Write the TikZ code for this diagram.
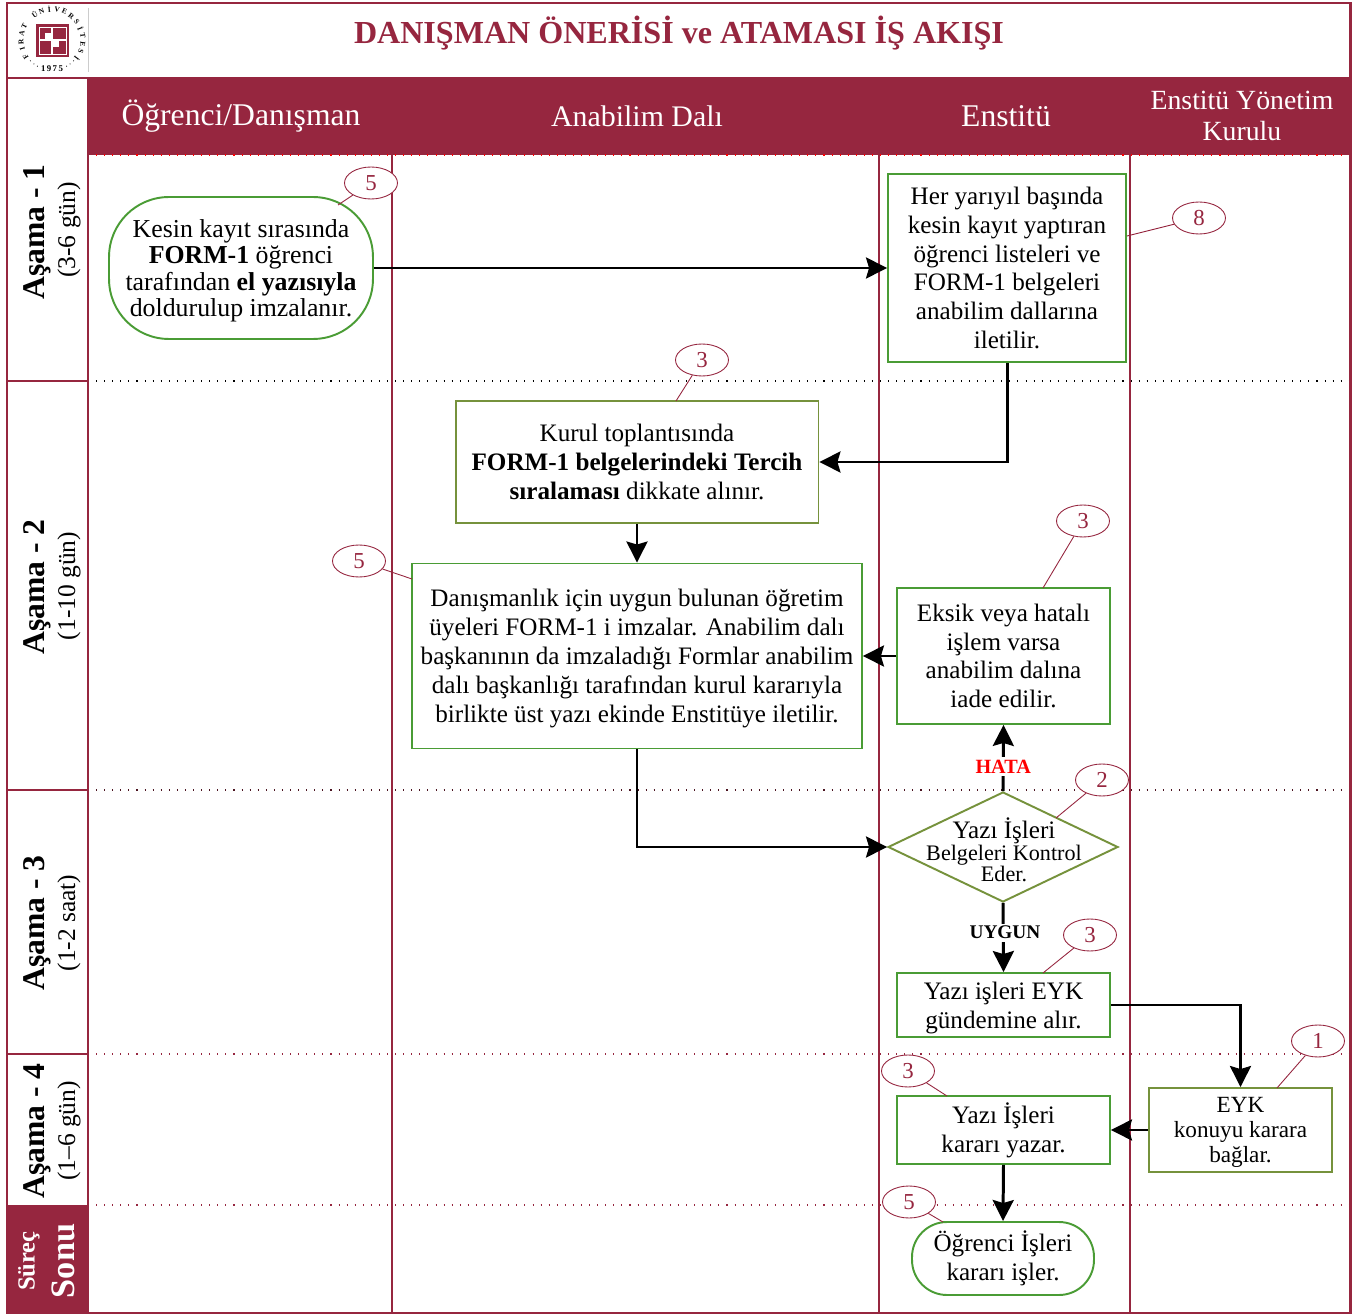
\documentclass[tikz,border=0pt]{standalone}
\usepackage{fontspec}
\setmainfont{Liberation Serif}
\usepackage{xcolor}
\usetikzlibrary{calc}
\usetikzlibrary{arrows.meta}
\usetikzlibrary{shapes.geometric}
\definecolor{bordo}{HTML}{96263F}
\definecolor{yesil}{HTML}{4A9C35}
\definecolor{zeytin}{HTML}{76923C}
\tikzset{
    txt/.style={align=center, inner sep=0pt, font=\fontsize{14.3}{16.45}\selectfont},
    kutu/.style={txt, draw=yesil, line width=1.1pt, minimum width=#1},
    kurulkutu/.style={txt, draw=zeytin, line width=1.1pt, minimum width=#1},
    yuvarlak/.style={txt, draw=yesil, line width=1.1pt, rounded corners=.7cm, minimum width=#1},
    baslik/.style={text=white, align=center, font=\fontsize{17}{18}\selectfont},
    asama/.style={rotate=90, inner sep=0pt, font=\fontsize{18}{20}\selectfont\bfseries},
    sure/.style={rotate=90, inner sep=0pt, font=\fontsize{14.5}{15}\selectfont},
    sayi/.style={ellipse, draw=bordo, fill=white, line width=.5pt, text=bordo, inner sep=0pt, minimum width=1.06cm, minimum height=.64cm, font=\fontsize{13}{15}\selectfont},
    ok/.style={draw, line width=1.7pt, -{Stealth[length=.42cm, width=.42cm, inset=.06cm]}},
    bag/.style={draw=bordo, line width=.5pt},
    cizgi/.style={draw=bordo, line width=1pt},
    nokta/.style={line width=.6pt, dash pattern=on .6pt off 4pt}
}
\begin{document}
\begin{tikzpicture}[x=.02cm, y=-.02cm]
    \useasboundingbox (0,0) rectangle (1367,1314);
    \fill[white] (0,0) rectangle (1367,1314);
    \fill[bordo] (88,78) rectangle (1350,155);
    \fill[bordo] (7,1205) rectangle (88,1313);
    \draw[red, nokta] (88,78) -- (1350,78);
    \draw[red, nokta] (88,155) -- (1350,155);
    \draw[gray!40, line width=.4pt] (88,8) -- (88,72);
    \draw[black, nokta] (88,381) -- (1350,381);
    \draw[black!50!bordo, nokta] (88,790) -- (1350,790);
    \draw[bordo, nokta] (88,1054) -- (1350,1054);
    \draw[bordo, nokta] (88,1205) -- (1350,1205);
    \draw[cizgi] (392,155) -- (392,1313);
    \draw[cizgi] (879,155) -- (879,1313);
    \draw[cizgi] (1130,155) -- (1130,1313);
    \draw[cizgi] (88,78) -- (88,1313);
    \draw[cizgi] (7,381) -- (88,381);
    \draw[cizgi] (7,790) -- (88,790);
    \draw[cizgi] (7,1054) -- (88,1054);
    \draw[cizgi] (7,78) -- (1350,78);
    \draw[bordo, line width=1.7pt] (7,3) rectangle (1350,1313);

    \coordinate (logo) at (52,40);
    \fill[bordo] (36,24) rectangle (69,57);
    \draw[white, line width=.5pt] (39,27) rectangle (66,54);
    \draw[white, line width=.8pt] (52,27) -- (52,54) (39,40) -- (66,40);
    \fill[white] (45,33) rectangle (51,39);
    \fill[white] (53,41) rectangle (59,47);
    \foreach \ch [count=\i] in {F,I,R,A,T,,Ü,N,İ,V,E,R,S,İ,T,E,S,İ}
        \node[inner sep=0pt, font=\fontsize{4.2}{5}\selectfont\bfseries, rotate={212-14.6*(\i-1)-90}]
            at ($(logo)+({212-14.6*(\i-1)}:.62cm)$) {\ch};
    \node[inner sep=0pt, font=\fontsize{5}{6}\selectfont\bfseries] at (52,69) {1\,9\,7\,5};
    \foreach \ang in {224,233,241,299,307,316}
        \fill ($(logo)+(\ang:.6cm)$) circle (.3pt);

    \node[text=bordo, font=\fontsize{18.25}{22}\selectfont\bfseries] (title) at (679,33) {DANIŞMAN ÖNERİSİ ve ATAMASI İŞ AKIŞI};
    \node[baslik, font=\fontsize{18}{20}\selectfont] (ogrdan) at (241,116) {Öğrenci/Danışman};
    \node[baslik] (abd) at (637,116) {Anabilim Dalı};
    \node[baslik, font=\fontsize{18}{20}\selectfont] (enst) at (1006,116) {Enstitü};
    \node[baslik, font=\fontsize{15.8}{18}\selectfont] (eyk) at (1242,116) {Enstitü Yönetim\\Kurulu};

    \node[asama] (a1) at (37,232) {Aşama - 1};
    \node[sure] (s1) at (69,230) {(3-6 gün)};
    \node[asama] (a2) at (37,587) {Aşama - 2};
    \node[sure] (s2) at (69,586) {(1-10 gün)};
    \node[asama] (a3) at (37,923) {Aşama - 3};
    \node[sure] (s3) at (69,923) {(1-2 saat)};
    \node[asama] (a4) at (37,1131) {Aşama - 4};
    \node[sure] (s4) at (69,1131) {(1–6 gün)};
    \node[rotate=90, text=white, font=\fontsize{14}{14}\selectfont\bfseries] (surec) at (29,1261) {Süreç};
    \node[rotate=90, text=white, font=\fontsize{19.5}{20}\selectfont\bfseries] (sonu) at (63,1261) {Sonu};

    \node[yuvarlak=5.28cm, rounded corners=1.2cm, minimum height=2.84cm, font=\fontsize{14.7}{15.1}\selectfont, text depth=0pt] (kayit) at (241,268) {Kesin kayıt sırasında\\\textbf{FORM-1} öğrenci\\tarafından \textbf{el yazısıyla}\\doldurulup imzalanır.};
    \node[kutu=4.76cm, minimum height=3.76cm] (liste) at (1007,268) {Her yarıyıl başında\\kesin kayıt yaptıran\\öğrenci listeleri ve\\FORM-1 belgeleri\\anabilim dallarına\\iletilir.};
    \node[kurulkutu=7.26cm, minimum height=2.44cm] (kurul) at (637,462) {Kurul toplantısında\\\textbf{FORM-1 belgelerindeki Tercih}\\\textbf{sıralaması} dikkate alınır.};
    \node[kutu=9cm, minimum height=3.7cm, text depth=0pt] (imza) at (637,656) {Danışmanlık için uygun bulunan öğretim\\üyeleri FORM-1 i imzalar. Anabilim dalı\\başkanının da imzaladığı Formlar anabilim\\dalı başkanlığı tarafından kurul kararıyla\\birlikte üst yazı ekinde Enstitüye iletilir.};
    \node[kutu=4.26cm, minimum height=2.72cm] (eksik) at (1003.5,656) {Eksik veya hatalı\\işlem varsa\\anabilim dalına\\iade edilir.};
    \node[diamond, aspect=2.09, draw=zeytin, line width=1.1pt, inner sep=0pt, minimum width=4.6cm, minimum height=2.2cm] (kontrol) at (1003,847) {};
    \node[txt, font=\fontsize{12.6}{12.3}\selectfont] (kontroltxt) at (1004,850) {{\fontsize{14.3}{12.3}\selectfont Yazı İşleri}\\Belgeleri Kontrol\\Eder.};
    \node[kutu=4.26cm, minimum height=1.28cm, text depth=0pt] (gundem) at (1003.5,1005) {Yazı işleri EYK\\gündemine alır.};
    \node[kutu=4.26cm, minimum height=1.36cm] (yazar) at (1003.5,1130) {Yazı İşleri\\kararı yazar.};
    \node[kurulkutu=3.66cm, minimum height=1.68cm, font=\fontsize{13.2}{14.4}\selectfont, text depth=0pt] (bagla) at (1240.5,1130) {EYK\\konuyu karara\\bağlar.};
    \node[yuvarlak=3.64cm, minimum height=1.46cm] (isler) at (1003,1258.5) {Öğrenci İşleri\\kararı işler.};

    \path[ok] (kayit.east) -- (liste.west);
    \path[ok] (liste.south) |- (kurul.east);
    \path[ok] (kurul.south) -- (imza.north);
    \path[ok] (eksik.west) -- (imza.east);
    \path[ok] (imza.south) |- (kontrol.west);
    \path[ok] (kontrol.north) -- node[pos=.37, fill=white, inner sep=1.5pt, text=red, font=\fontsize{11.5}{13}\selectfont\bfseries] {HATA} (eksik.south);
    \path[ok] (kontrol.south) -- node[pos=.43, fill=white, inner sep=1.5pt, xshift=1pt, font=\fontsize{11}{13}\selectfont\bfseries] {UYGUN} (gundem.north);
    \path[ok] (gundem.east) -| (bagla.north);
    \path[ok] (bagla.west) -- (yazar.east);
    \path[ok] (yazar.south) -- (isler.north);

    \node[sayi] (n1) at (371,183) {5};
    \draw[bag] (n1) -- (338,205);
    \node[sayi] (n2) at (702,360) {3};
    \draw[bag] (n2) -- (676,401);
    \node[sayi] (n3) at (1199,218) {8};
    \draw[bag] (n3) -- (1127,236);
    \node[sayi] (n4) at (359,561) {5};
    \draw[bag] (n4) -- (412,579);
    \node[sayi] (n5) at (1083,521) {3};
    \draw[bag] (n5) -- (1043,588);
    \node[sayi] (n6) at (1102,780) {2};
    \draw[bag] (n6) -- (1056,818);
    \node[sayi] (n7) at (1090,935) {3};
    \draw[bag] (n7) -- (1043,973);
    \node[sayi] (n8) at (1318,1041) {1};
    \draw[bag] (n8) -- (1277,1088);
    \node[sayi] (n9) at (908,1071) {3};
    \draw[bag] (n9) -- (947,1096);
    \node[sayi] (n10) at (909,1202) {5};
    \draw[bag] (n10) -- (943,1222);
\end{tikzpicture}
\end{document}
